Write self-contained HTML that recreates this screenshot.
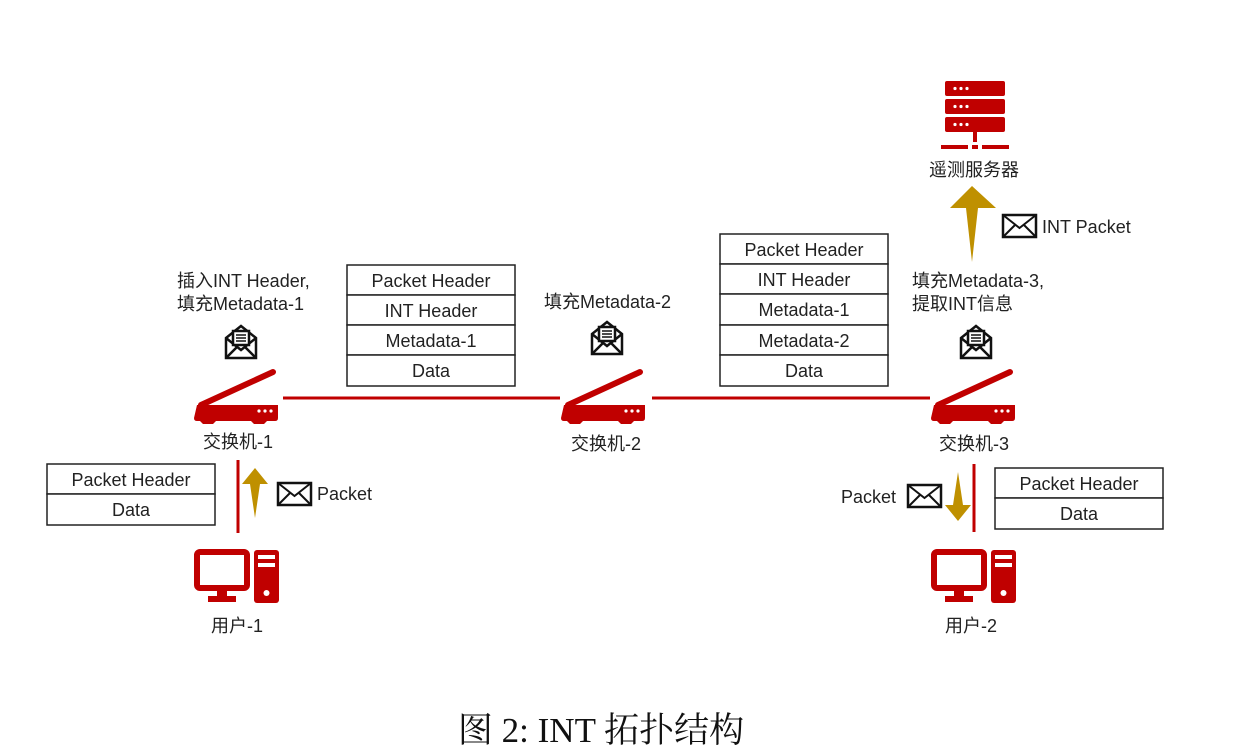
<!DOCTYPE html>
<html><head><meta charset="utf-8"><style>
html,body{margin:0;padding:0;background:#fff}
svg{display:block}
text{font-family:"Liberation Sans","Noto Sans CJK SC",sans-serif;font-size:18px;fill:#222}
.cap{font-family:"Liberation Serif","Noto Serif CJK SC",serif;font-size:35px;fill:#111}
.box{fill:#fff;stroke:#222;stroke-width:1.5}
</style></head><body>
<svg width="1242" height="750" viewBox="0 0 1242 750" xmlns="http://www.w3.org/2000/svg">
<defs>
<g id="sw">
<line x1="4" y1="35" x2="76" y2="2" stroke="#c00000" stroke-width="6" stroke-linecap="round"/>
<path d="M0,35 h81 v13 q0,3 -3,3 h-8 l-3,3 h-10 l-3,-3 h-35 l-3,3 h-10 l-3,-3 h-3 q-3,0 -3,-3 z" fill="#c00000"/>
<circle cx="62" cy="41" r="1.6" fill="#fff"/><circle cx="68" cy="41" r="1.6" fill="#fff"/><circle cx="74" cy="41" r="1.6" fill="#fff"/>
</g>
<g id="pc">
<rect x="2" y="2" width="50" height="36" fill="none" stroke="#c00000" stroke-width="6" rx="3"/>
<rect x="22" y="40" width="10" height="8" fill="#c00000"/>
<rect x="13" y="46" width="28" height="6" fill="#c00000"/>
<rect x="59" y="0" width="25" height="53" rx="3" fill="#c00000"/>
<rect x="63" y="5" width="17" height="4" fill="#fff"/><rect x="63" y="13" width="17" height="4" fill="#fff"/>
<circle cx="71.5" cy="43" r="3" fill="#fff"/>
</g>
<g id="oenv" fill="none" stroke="#111" stroke-width="2.5">
<path d="M2,14 L17,2 L32,14 V34 H2 Z"/>
<path d="M2,34 L14,22 M32,34 L20,22 M2,14 L17,26 L32,14"/>
<rect x="9" y="7" width="16" height="14" fill="#fff"/>
<path d="M12,11 h10 M12,14 h10 M12,17 h10" stroke-width="1.5"/>
</g>
<g id="env" fill="#fff" stroke="#111" stroke-width="2.5">
<rect x="1" y="1" width="33" height="22"/>
<path d="M1,1 L17.5,14 L34,1 M1,23 L13,11 M34,23 L22,11" fill="none" stroke-width="2"/>
</g>
</defs>

<line x1="283" y1="398" x2="560" y2="398" stroke="#c00000" stroke-width="3"/>
<line x1="652" y1="398" x2="930" y2="398" stroke="#c00000" stroke-width="3"/>
<line x1="238" y1="460" x2="238" y2="533" stroke="#c00000" stroke-width="3"/>
<line x1="974" y1="464" x2="974" y2="532" stroke="#c00000" stroke-width="3"/>

<use href="#sw" x="197" y="370"/>
<use href="#sw" x="564" y="370"/>
<use href="#sw" x="934" y="370"/>
<text x="238" y="448" text-anchor="middle">交换机-1</text>
<text x="606" y="450" text-anchor="middle">交换机-2</text>
<text x="974" y="450" text-anchor="middle">交换机-3</text>

<use href="#pc" x="195" y="550"/>
<use href="#pc" x="932" y="550"/>
<text x="237" y="632" text-anchor="middle">用户-1</text>
<text x="971" y="632" text-anchor="middle">用户-2</text>

<g fill="#c00000">
<rect x="945" y="81" width="60" height="15" rx="2"/>
<rect x="945" y="99" width="60" height="15" rx="2"/>
<rect x="945" y="117" width="60" height="15" rx="2"/>
<rect x="973" y="132" width="4" height="10"/>
<rect x="941" y="145" width="27" height="4"/><rect x="972" y="145" width="6" height="4"/><rect x="982" y="145" width="27" height="4"/>
</g>
<g fill="#fff">
<circle cx="955" cy="88.5" r="1.6"/><circle cx="961" cy="88.5" r="1.6"/><circle cx="967" cy="88.5" r="1.6"/>
<circle cx="955" cy="106.5" r="1.6"/><circle cx="961" cy="106.5" r="1.6"/><circle cx="967" cy="106.5" r="1.6"/>
<circle cx="955" cy="124.5" r="1.6"/><circle cx="961" cy="124.5" r="1.6"/><circle cx="967" cy="124.5" r="1.6"/>
</g>
<text x="974" y="176" text-anchor="middle">遥测服务器</text>

<path d="M972,186 L996,208 L978,208 L972,262 L966,208 L950,208 Z" fill="#bf9000"/>
<path d="M255,468 L268,484 L260,484 L255,518 L250,484 L242,484 Z" fill="#bf9000"/>
<path d="M958,521 L945,505 L953,505 L958,472 L963,505 L971,505 Z" fill="#bf9000"/>

<use href="#oenv" x="224" y="324"/>
<use href="#oenv" x="590" y="320"/>
<use href="#oenv" x="959" y="324"/>
<use href="#env" x="277" y="482"/>
<use href="#env" x="907" y="484"/>
<use href="#env" x="1002" y="214"/>
<text x="317" y="500">Packet</text>
<text x="841" y="503">Packet</text>
<text x="1042" y="233">INT Packet</text>

<text x="177" y="287">插入INT Header,</text>
<text x="177" y="310">填充Metadata-1</text>
<text x="544" y="308">填充Metadata-2</text>
<text x="912" y="287">填充Metadata-3,</text>
<text x="912" y="310">提取INT信息</text>

<g>
<rect class="box" x="347" y="265" width="168" height="30"/><text x="431" y="287" text-anchor="middle">Packet Header</text>
<rect class="box" x="347" y="295" width="168" height="30"/><text x="431" y="317" text-anchor="middle">INT Header</text>
<rect class="box" x="347" y="325" width="168" height="30"/><text x="431" y="347" text-anchor="middle">Metadata-1</text>
<rect class="box" x="347" y="355" width="168" height="31"/><text x="431" y="377" text-anchor="middle">Data</text>

<rect class="box" x="720" y="234" width="168" height="30"/><text x="804" y="256" text-anchor="middle">Packet Header</text>
<rect class="box" x="720" y="264" width="168" height="30"/><text x="804" y="286" text-anchor="middle">INT Header</text>
<rect class="box" x="720" y="294" width="168" height="31"/><text x="804" y="316" text-anchor="middle">Metadata-1</text>
<rect class="box" x="720" y="325" width="168" height="30"/><text x="804" y="347" text-anchor="middle">Metadata-2</text>
<rect class="box" x="720" y="355" width="168" height="31"/><text x="804" y="377" text-anchor="middle">Data</text>

<rect class="box" x="47" y="464" width="168" height="30"/><text x="131" y="486" text-anchor="middle">Packet Header</text>
<rect class="box" x="47" y="494" width="168" height="31"/><text x="131" y="516" text-anchor="middle">Data</text>

<rect class="box" x="995" y="468" width="168" height="30"/><text x="1079" y="490" text-anchor="middle">Packet Header</text>
<rect class="box" x="995" y="498" width="168" height="31"/><text x="1079" y="520" text-anchor="middle">Data</text>
</g>

<text class="cap" x="601" y="742" text-anchor="middle">图 2: INT 拓扑结构</text>
</svg>
</body></html>
